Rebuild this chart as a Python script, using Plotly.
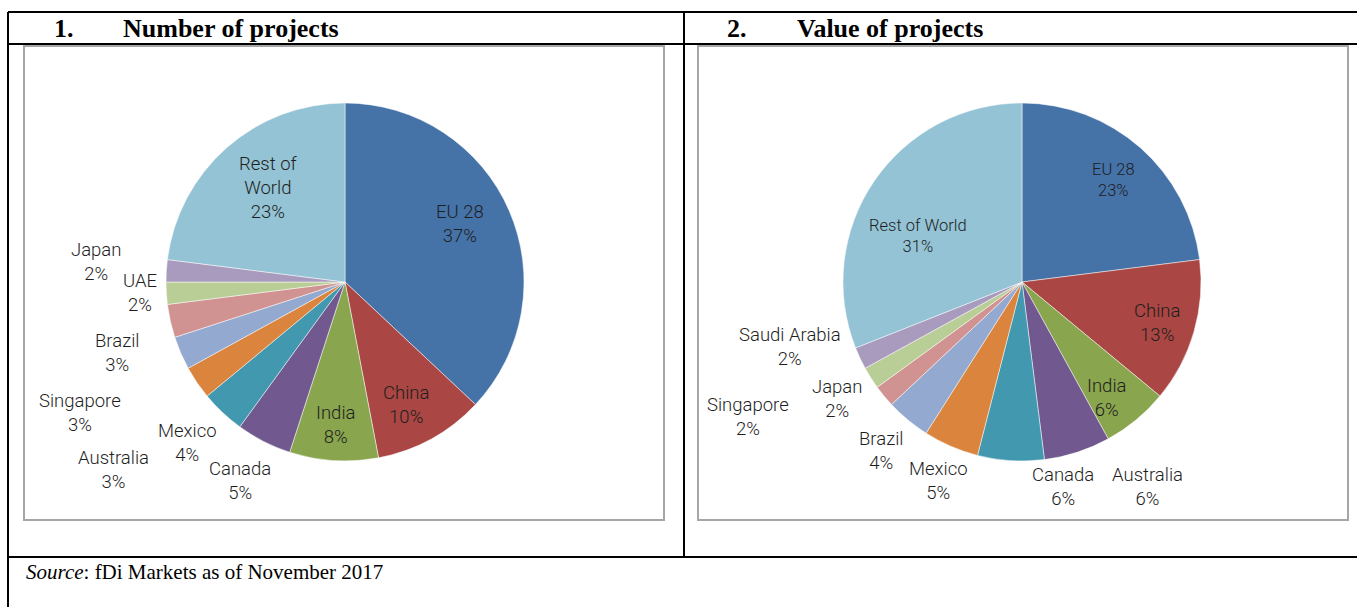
import plotly.graph_objects as go

W, H = 1357, 607

# ---- data ----
labels_1 = ["EU 28", "China", "India", "Canada", "Mexico", "Australia", "Singapore", "Brazil", "UAE", "Japan", "Rest of World"]
values_1 = [37, 10, 8, 5, 4, 3, 3, 3, 2, 2, 23]
display_1 = ["EU 28", "China", "India", "Canada", "Mexico", "Australia", "Singapore", "Brazil", "UAE", "Japan", "Rest of<br>World"]

labels_2 = ["EU 28", "China", "India", "Australia", "Canada", "Mexico", "Brazil", "Japan", "Singapore", "Saudi Arabia", "Rest of World"]
values_2 = [23, 13, 6, 6, 6, 5, 4, 2, 2, 2, 31]
display_2 = ["EU 28", "China", "India", "Australia", "Canada", "Mexico", "Brazil", "Japan", "Singapore", "Saudi Arabia", "Rest of World"]

colors = ["#4572A7", "#AA4643", "#89A54E", "#71588F", "#4198AF", "#DB843D",
          "#93A9CF", "#D19392", "#B9CD96", "#A99BBD", "#93C3D4"]

title_1 = "Number of projects"
title_2 = "Value of projects"
source_note = "<i>Source</i>: fDi Markets as of November 2017"

# label placement (window-pixel centres) and font sizes
pos_1 = [(460, 224), (406, 405), (335, 425), (240, 481), (187, 443), (113, 470),
         (80, 413), (117, 353), (140, 293), (96, 262), (268, 188)]
size_1 = [18.5] * 11
pos_2 = [(1113, 180), (1157, 323), (1106, 398), (1147, 487), (1063, 487), (938, 481),
         (881, 451), (837, 399), (748, 417), (790, 347), (918, 236)]
size_2 = [16.5, 18.5, 18.5, 18.5, 18.5, 18.5, 18.5, 18.5, 18.5, 18.5, 16.5]


def px(x):
    return x / W


def py(y):
    return 1 - y / H


def pie_domain(cx, cy, r):
    return dict(x=[px(cx - r), px(cx + r)], y=[py(cy + r), py(cy - r)])


fig = go.Figure()
for lab, val, dom in [(labels_1, values_1, pie_domain(345, 282, 179)),
                      (labels_2, values_2, pie_domain(1022, 282, 179))]:
    fig.add_trace(go.Pie(
        labels=lab, values=val, sort=False, direction="clockwise", rotation=0,
        marker=dict(colors=colors, line=dict(color="rgba(255,255,255,0.7)", width=0.7)),
        textinfo="none", hoverinfo="label+percent", showlegend=False, domain=dom,
    ))

annotations = []
label_font = "Roboto, Noto Sans, sans-serif"
for disp, val, (x, y), fs in list(zip(display_1, values_1, pos_1, size_1)) + \
        list(zip(display_2, values_2, pos_2, size_2)):
    annotations.append(dict(
        x=px(x), y=py(y), xref="paper", yref="paper", xanchor="center", yanchor="middle",
        text=f"{disp}<br>{val}%", showarrow=False, align="center",
        font=dict(family=label_font, size=fs, color="#1e1e1e", weight=300),
    ))

title_font = dict(family="Liberation Serif, Times New Roman, serif", size=26, color="black")
for num, title, xn, xt in [("1.", title_1, 52, 121), ("2.", title_2, 725, 795)]:
    annotations.append(dict(x=px(xn), y=py(29), xref="paper", yref="paper", xanchor="left",
                            yanchor="middle", text=f"<b>{num}</b>", showarrow=False, font=title_font))
    annotations.append(dict(x=px(xt), y=py(29), xref="paper", yref="paper", xanchor="left",
                            yanchor="middle", text=f"<b>{title}</b>", showarrow=False, font=title_font))

annotations.append(dict(x=px(24), y=py(572), xref="paper", yref="paper", xanchor="left",
                        yanchor="middle", text=source_note, showarrow=False,
                        font=dict(family="Liberation Serif, Times New Roman, serif", size=21, color="black")))

shapes = []
black = dict(color="black", width=2)
# table lines
for (x0, y0, x1, y1) in [(8, 12, 1357, 12), (8, 44, 1357, 44), (8, 557, 1357, 557),
                         (8, 12, 8, 607), (684, 12, 684, 557)]:
    shapes.append(dict(type="line", xref="paper", yref="paper", x0=px(x0), y0=py(y0),
                       x1=px(x1), y1=py(y1), line=black))
# chart frames
for (x0, y0, x1, y1) in [(24, 46, 664, 520), (698, 46, 1348, 520)]:
    shapes.append(dict(type="rect", xref="paper", yref="paper", x0=px(x0), y0=py(y0),
                       x1=px(x1), y1=py(y1), line=dict(color="#a6a6a6", width=2)))

fig.update_layout(
    width=W, height=H, margin=dict(l=0, r=0, t=0, b=0),
    paper_bgcolor="white", plot_bgcolor="white",
    annotations=annotations, shapes=shapes,
)

fig.write_html("out.html",
               config={"displayModeBar": False},
               post_script="document.body.style.margin='0';document.body.style.overflow='hidden';")
